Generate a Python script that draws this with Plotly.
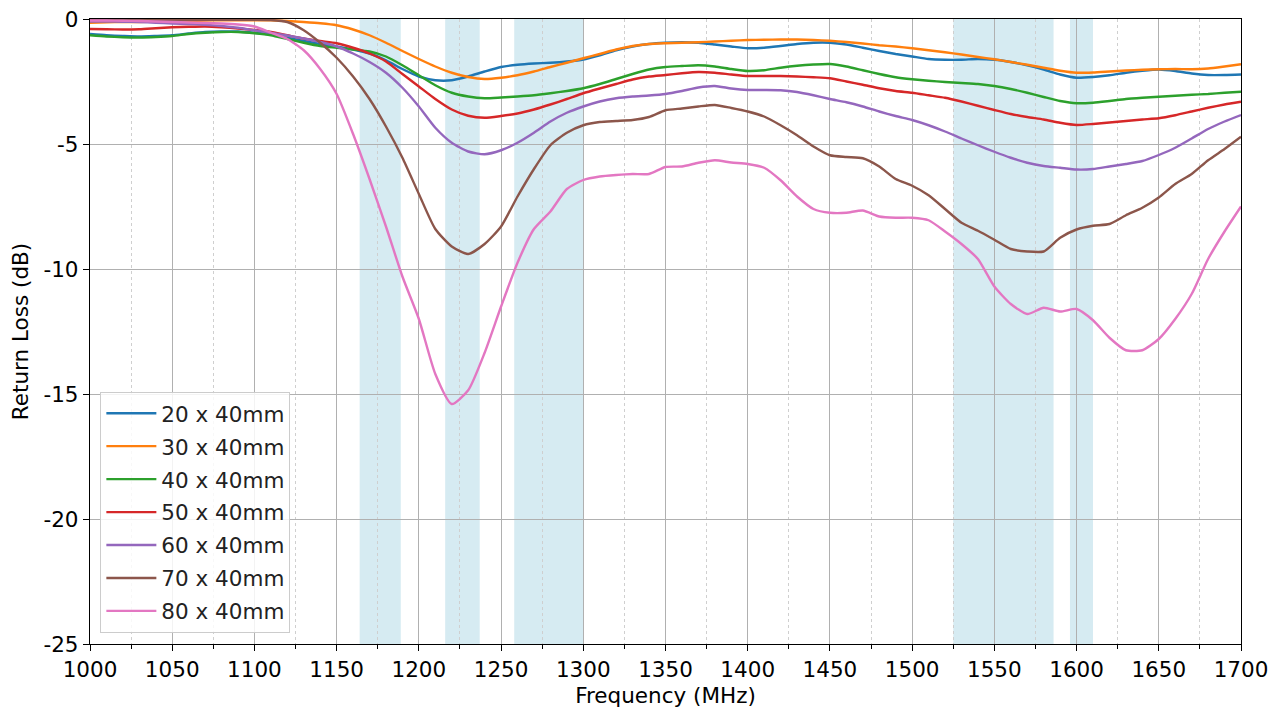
import plotly.graph_objects as go

freq = list(range(1000, 1701, 10))

s20 = [-0.6, -0.65, -0.68, -0.7, -0.68, -0.65, -0.58, -0.52, -0.5, -0.5, -0.55, -0.62, -0.75, -0.88, -1.0, -1.1,
       -1.22, -1.38, -1.65, -2.0, -2.3, -2.45, -2.45, -2.3, -2.1, -1.92, -1.83, -1.78, -1.75, -1.7, -1.62, -1.45,
       -1.25, -1.1, -1.0, -0.95, -0.93, -0.95, -1.02, -1.1, -1.17, -1.15, -1.08, -1.0, -0.95, -0.95, -1.02, -1.15,
       -1.28, -1.4, -1.5, -1.6, -1.63, -1.63, -1.6, -1.63, -1.72, -1.85, -2.02, -2.22, -2.35, -2.32, -2.25, -2.15,
       -2.07, -2.02, -2.08, -2.18, -2.24, -2.24, -2.22]
s30 = [-0.15, -0.13, -0.12, -0.12, -0.1, -0.1, -0.08, -0.06, -0.05, -0.05, -0.05, -0.05, -0.08, -0.12, -0.17, -0.25,
       -0.42, -0.65, -0.95, -1.28, -1.6, -1.9, -2.15, -2.32, -2.4, -2.35, -2.25, -2.1, -1.92, -1.75, -1.57, -1.4,
       -1.22, -1.08, -1.0, -0.97, -0.95, -0.93, -0.9, -0.87, -0.84, -0.83, -0.82, -0.82, -0.84, -0.87, -0.92, -0.98,
       -1.05, -1.1, -1.17, -1.25, -1.33, -1.42, -1.52, -1.61, -1.72, -1.83, -1.95, -2.07, -2.15, -2.14, -2.1, -2.06,
       -2.03, -2.01, -2.0, -2.01, -1.98, -1.9, -1.81]
s40 = [-0.65, -0.7, -0.73, -0.74, -0.72, -0.68, -0.6, -0.55, -0.52, -0.52, -0.57, -0.65, -0.8, -0.95, -1.08, -1.15,
       -1.22, -1.3, -1.5, -1.85, -2.25, -2.65, -2.95, -3.1, -3.17, -3.14, -3.1, -3.05, -2.97, -2.88, -2.77, -2.6,
       -2.4, -2.2, -2.02, -1.92, -1.88, -1.85, -1.9, -2.0, -2.08, -2.05, -1.95, -1.87, -1.82, -1.8, -1.9, -2.05,
       -2.2, -2.33, -2.41, -2.47, -2.52, -2.56, -2.6, -2.68, -2.8, -2.95, -3.12, -3.28, -3.37, -3.35, -3.28, -3.2,
       -3.15, -3.11, -3.07, -3.03, -3.0, -2.95, -2.91]
s50 = [-0.4, -0.41, -0.42, -0.41, -0.37, -0.33, -0.31, -0.3, -0.33, -0.38, -0.44, -0.52, -0.65, -0.78, -0.88, -0.97,
       -1.15, -1.38, -1.7, -2.2, -2.7, -3.2, -3.62, -3.87, -3.95, -3.88, -3.78, -3.62, -3.42, -3.2, -2.97, -2.78,
       -2.6, -2.42, -2.3, -2.24, -2.17, -2.12, -2.15, -2.22, -2.28, -2.28, -2.28, -2.3, -2.33, -2.37, -2.5, -2.63,
       -2.77, -2.88, -2.95, -3.05, -3.15, -3.3, -3.47, -3.64, -3.8, -3.92, -4.02, -4.15, -4.24, -4.2, -4.14, -4.08,
       -4.02, -3.97, -3.85, -3.7, -3.55, -3.42, -3.31]
s60 = [-0.1, -0.1, -0.11, -0.12, -0.15, -0.18, -0.2, -0.23, -0.28, -0.35, -0.45, -0.55, -0.66, -0.78, -0.92, -1.1,
       -1.38, -1.72, -2.15, -2.75, -3.5, -4.35, -4.95, -5.3, -5.41, -5.25, -4.95, -4.55, -4.1, -3.75, -3.5, -3.3,
       -3.17, -3.1, -3.06, -3.0, -2.88, -2.74, -2.68, -2.78, -2.84, -2.84, -2.85, -2.92, -3.05, -3.2, -3.33, -3.5,
       -3.7, -3.88, -4.04, -4.25, -4.5, -4.78, -5.05, -5.31, -5.55, -5.75, -5.88, -5.95, -6.02, -6.0, -5.9, -5.8,
       -5.68, -5.44, -5.15, -4.78, -4.4, -4.1, -3.84]
s70 = [-0.03, -0.03, -0.03, -0.03, -0.03, -0.03, -0.03, -0.03, -0.03, -0.03, -0.03, -0.04, -0.12, -0.45, -0.95, -1.55,
       -2.3, -3.2, -4.3, -5.55, -7.0, -8.4, -9.1, -9.4, -9.0, -8.3, -7.1, -6.0, -5.05, -4.55, -4.25, -4.12,
       -4.08, -4.04, -3.92, -3.65, -3.58, -3.5, -3.44, -3.56, -3.7, -3.9, -4.25, -4.65, -5.1, -5.45, -5.52, -5.57,
       -5.9, -6.4, -6.67, -7.05, -7.6, -8.15, -8.47, -8.83, -9.2, -9.3, -9.3, -8.75, -8.42, -8.27, -8.2, -7.85,
       -7.55, -7.14, -6.6, -6.2, -5.65, -5.2, -4.71]
s80 = [-0.06, -0.06, -0.07, -0.08, -0.1, -0.12, -0.14, -0.16, -0.18, -0.22, -0.3, -0.55, -0.8, -1.25, -2.0, -3.0,
       -4.6, -6.4, -8.3, -10.3, -12.0, -14.2, -15.4, -14.85, -13.35, -11.5, -9.75, -8.4, -7.7, -6.8, -6.44, -6.3,
       -6.24, -6.2, -6.2, -5.92, -5.9, -5.75, -5.65, -5.74, -5.8, -5.95, -6.45, -7.1, -7.6, -7.75, -7.75, -7.66,
       -7.9, -7.95, -7.95, -8.05, -8.5, -9.0, -9.6, -10.7, -11.4, -11.8, -11.55, -11.7, -11.6, -12.05, -12.75, -13.25,
       -13.25, -12.8, -12.0, -11.0, -9.6, -8.5, -7.5]

series_names = ["20 x 40mm", "30 x 40mm", "40 x 40mm", "50 x 40mm", "60 x 40mm", "70 x 40mm", "80 x 40mm"]
series_values = [s20, s30, s40, s50, s60, s70, s80]
colors = ["#1f77b4", "#ff7f0e", "#2ca02c", "#d62728", "#9467bd", "#8c564b", "#e377c2"]

band_starts = [1164, 1216, 1258, 1525, 1596]
band_ends = [1189, 1237, 1300, 1586, 1610]

x_ticks = list(range(1000, 1701, 50))
y_ticks = [0, -5, -10, -15, -20, -25]
y_ticktext = ["0", "-5", "-10", "-15", "-20", "-25"]

FONT = "DejaVu Sans"
FS = 21.5
fig = go.Figure()
for name, vals, col in zip(series_names, series_values, colors):
    fig.add_trace(go.Scatter(x=freq, y=vals, mode="lines", name=name, legendgroup=name,
                             line=dict(color=col, width=2.4, shape="spline", smoothing=0.6)))

for a, b in zip(band_starts, band_ends):
    fig.add_shape(type="rect", xref="x", yref="paper", x0=a, x1=b, y0=0, y1=1,
                  fillcolor="rgba(173,216,230,0.5)", line=dict(width=0), layer="below")

axis_common = dict(showline=True, mirror=True, linecolor="black", linewidth=1.3,
                   ticks="outside", ticklen=6, tickwidth=1.2, tickcolor="black",
                   showgrid=True, gridcolor="#b0b0b0", gridwidth=1.2, zeroline=False,
                   ticklabeloverflow="allow",
                   tickfont=dict(family=FONT, size=FS, color="black"))

fig.update_xaxes(range=[1000, 1700], tickvals=x_ticks,
                 title=dict(text="Frequency (MHz)", font=dict(family=FONT, size=FS, color="black"), standoff=6),
                 minor=dict(dtick=25, tick0=1000, showgrid=True, griddash="dot", gridcolor="#cfcfcf",
                            gridwidth=1, ticks="outside", ticklen=3.5, tickcolor="black"),
                 **axis_common)
fig.update_yaxes(range=[-25, 0], tickvals=y_ticks, ticktext=y_ticktext,
                 title=dict(text="Return Loss (dB)", font=dict(family=FONT, size=FS, color="black"), standoff=10),
                 **axis_common)

fig.update_layout(
    width=1272, height=705,
    margin=dict(l=82, r=39, t=11, b=69, autoexpand=False),
    plot_bgcolor="white", paper_bgcolor="white",
    font=dict(family=FONT, size=FS, color="black"),
    legend=dict(x=0.009, y=0.018, xanchor="left", yanchor="bottom",
                bgcolor="rgba(255,255,255,0.85)", bordercolor="#cccccc", borderwidth=1,
                font=dict(family=FONT, size=FS, color="#222222"), itemwidth=50,
                tracegroupgap=2),
    showlegend=True,
)

fig.write_html("out.html")
